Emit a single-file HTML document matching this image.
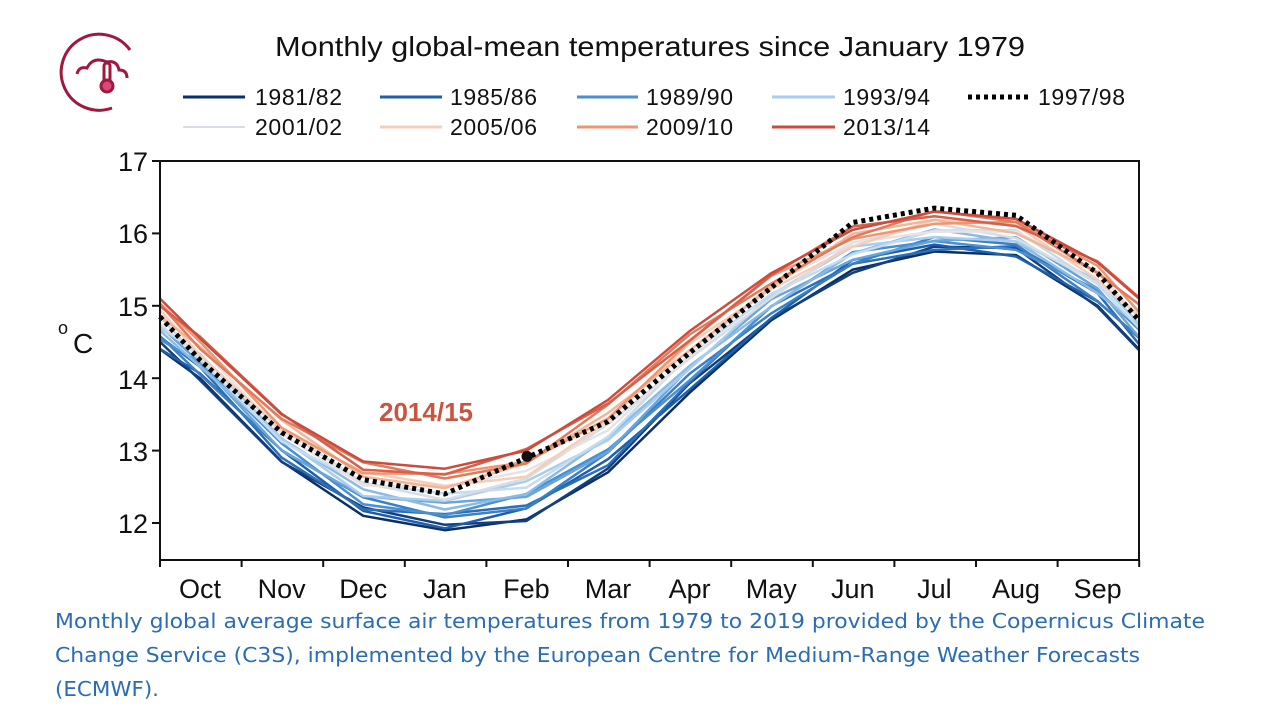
<!DOCTYPE html>
<html><head><meta charset="utf-8"><style>
html,body{margin:0;padding:0;background:#fff;width:1287px;height:720px;overflow:hidden}
svg{display:block;font-family:"Liberation Sans",Arial,sans-serif}
</style></head><body>
<svg id="s" width="1287" height="720" viewBox="0 0 1287 720" xmlns="http://www.w3.org/2000/svg">
<rect width="1287" height="720" fill="#fff"/>
<g fill="none" stroke="#a0173f" stroke-width="3">
<path d="M130 50 A38 38 0 1 0 112 108"/>
<path d="M77 74 q2-8 10-6 q6-12 20-6 q10-2 12 8 q8 0 8 8"/>
<circle cx="107" cy="86" r="6" fill="#d94a7a"/>
<path d="M104 82 V66 a3 3 0 0 1 6 0 V82"/>
</g>
<text x="275" y="56" font-size="28" fill="#111" textLength="750" lengthAdjust="spacingAndGlyphs">Monthly global-mean temperatures since January 1979</text>
<g font-size="23" fill="#111">
<line x1="183" y1="97" x2="245" y2="97" stroke="#0b2f66" stroke-width="3"/><text x="255" y="105" textLength="87">1981/82</text>
<line x1="380" y1="97" x2="442" y2="97" stroke="#1d5fa8" stroke-width="3"/><text x="450" y="105" textLength="87">1985/86</text>
<line x1="577" y1="97" x2="638" y2="97" stroke="#4a8fd0" stroke-width="3"/><text x="646" y="105" textLength="87">1989/90</text>
<line x1="772" y1="97" x2="835" y2="97" stroke="#a9cdec" stroke-width="3"/><text x="843" y="105" textLength="87">1993/94</text>
<line x1="968" y1="97" x2="1030" y2="97" stroke="#000" stroke-width="5" stroke-dasharray="4,4"/><text x="1038" y="105" textLength="87">1997/98</text>
<line x1="183" y1="127" x2="245" y2="127" stroke="#d8dde5" stroke-width="2"/><text x="255" y="135" textLength="87">2001/02</text>
<line x1="380" y1="127" x2="442" y2="127" stroke="#f6cdb8" stroke-width="3"/><text x="450" y="135" textLength="87">2005/06</text>
<line x1="577" y1="127" x2="638" y2="127" stroke="#ec9672" stroke-width="3"/><text x="646" y="135" textLength="87">2009/10</text>
<line x1="772" y1="127" x2="835" y2="127" stroke="#cc4b3c" stroke-width="3"/><text x="843" y="135" textLength="87">2013/14</text>
</g>
<g id="series"></g>
<rect x="160" y="161" width="979" height="399" fill="none" stroke="#111" stroke-width="2"/>
<g stroke="#111" stroke-width="2" id="ticks"></g>
<g font-size="27" fill="#111" text-anchor="end">
<text x="148" y="171">17</text><text x="148" y="243">16</text><text x="148" y="316">15</text>
<text x="148" y="389">14</text><text x="148" y="461">13</text><text x="148" y="533">12</text>
</g>
<text x="58" y="334" font-size="18" fill="#111">o</text>
<text x="73" y="353" font-size="28" fill="#111">C</text>
<g font-size="27" fill="#111" text-anchor="middle" id="months"></g>
<text x="426" y="421" font-size="26" font-weight="bold" fill="#c9543f" text-anchor="middle">2014/15</text>
<g font-size="20" fill="#2a6cb5" font-family="DejaVu Sans, sans-serif">
<text x="55" y="628" textLength="1150" lengthAdjust="spacingAndGlyphs">Monthly global average surface air temperatures from 1979 to 2019 provided by the Copernicus Climate</text>
<text x="55" y="662" textLength="1085" lengthAdjust="spacingAndGlyphs">Change Service (C3S), implemented by the European Centre for Medium-Range Weather Forecasts</text>
<text x="55" y="696" textLength="104" lengthAdjust="spacingAndGlyphs">(ECMWF).</text>
</g>
</svg>
<script>
var NS="http://www.w3.org/2000/svg";
function Y(v){return 161+(17-v)*72.4;}
var xs=[160];for(var i=0;i<12;i++)xs.push(200+81.6*i);xs.push(1139);
var cold=[14.4,14.0,12.85,12.1,11.9,12.05,12.7,13.8,14.8,15.5,15.75,15.7,15.0,14.4];
var warm=[15.1,14.55,13.5,12.85,12.75,13.0,13.7,14.65,15.45,16.05,16.3,16.2,15.6,15.1];
var dot=[14.85,14.25,13.25,12.6,12.4,12.9,13.4,14.35,15.25,16.15,16.35,16.25,15.45,14.8];
var cols=["#0b2f66","#123f80","#1d5fa8","#2b6fb8","#3b7fc4","#4a8fd0","#6aa5da","#8bbbe5","#a9cdec","#c4dcf0","#d8dde5","#e6e3e2","#f6cdb8","#f3b597","#ec9672","#e07b5c","#d6604a","#cc4b3c"];
var g=document.getElementById("series");
function path(vals,col,w,dash){var d="";for(var i=0;i<xs.length;i++)d+=(i?"L":"M")+xs[i].toFixed(1)+" "+Y(vals[i]).toFixed(1);
var p=document.createElementNS(NS,"path");p.setAttribute("d",d);p.setAttribute("fill","none");p.setAttribute("stroke",col);p.setAttribute("stroke-width",w);p.setAttribute("stroke-linejoin","round");if(dash)p.setAttribute("stroke-dasharray",dash);g.appendChild(p);}
var n=cols.length;
for(var k=0;k<n;k++){var t=k/(n-1);var v=[];for(var i=0;i<xs.length;i++){var j=Math.sin(i*1.7+k*2.3)*0.08;v.push(cold[i]+(warm[i]-cold[i])*t+j*(t>0.05&&t<0.95?1:0));}path(v,cols[k],2.5);}
path(dot,"#000",5,"4,4");
var c=document.createElementNS(NS,"circle");c.setAttribute("cx",527);c.setAttribute("cy",Y(12.92));c.setAttribute("r",5.5);c.setAttribute("fill","#111");g.appendChild(c);
var tk=document.getElementById("ticks");
for(var i=0;i<=12;i++){var x=160+81.6*i;var l=document.createElementNS(NS,"line");l.setAttribute("x1",x);l.setAttribute("x2",x);l.setAttribute("y1",560);l.setAttribute("y2",567);tk.appendChild(l);}
[17,16,15,14,13,12].forEach(function(v){var l=document.createElementNS(NS,"line");l.setAttribute("x1",152);l.setAttribute("x2",160);l.setAttribute("y1",Y(v));l.setAttribute("y2",Y(v));tk.appendChild(l);});
var m=["Oct","Nov","Dec","Jan","Feb","Mar","Apr","May","Jun","Jul","Aug","Sep"],mg=document.getElementById("months");
m.forEach(function(s,i){var t=document.createElementNS(NS,"text");t.setAttribute("x",200+81.6*i);t.setAttribute("y",598);t.textContent=s;mg.appendChild(t);});
</script>
</body></html>
